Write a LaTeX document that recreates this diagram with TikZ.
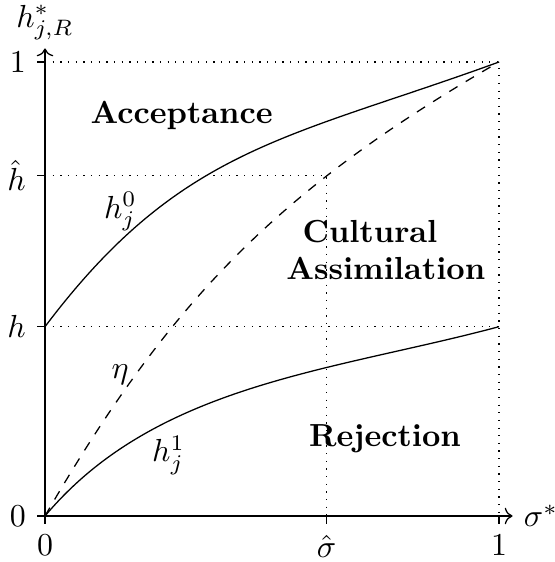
\documentclass[tikz,border=0pt]{standalone}
\usepackage{amsmath,amssymb}
\usetikzlibrary{arrows.meta,positioning}
\newcommand{\hlev}{2.085}
\newcommand{\hhatlev}{3.75}
\newcommand{\shatlev}{3.1}

\begin{document}
\begin{tikzpicture}[
    axis/.style={->},
    guide/.style={dotted},
    region/.style={
        font=\bfseries,
        anchor=base
    },
    curvelabel/.style={anchor=base}
]
\useasboundingbox (-0.4956,-0.5066) rectangle (5.606,5.683);

\coordinate (orig) at (0,0);
\coordinate (xend) at (5.15,0);
\coordinate (yend) at (0,5.15);
\coordinate (corner) at (5,5);
\coordinate (hleft) at (0,\hlev);
\coordinate (hright) at (5,\hlev);
\coordinate (hhat) at (0,\hhatlev);
\coordinate (meet) at (\shatlev,\hhatlev);
\coordinate (shat) at (\shatlev,0);

\draw[guide] (0,5) -- (corner) -- (5,0);
\draw[guide] (hleft) -- (hright);
\draw[guide] (hhat) -- (meet) -- (shat);

\draw[axis] (orig) -- (xend) node[right] (xlab) {$\sigma^*$};
\draw[axis] (orig) -- (yend) node[above,yshift=-1pt] (ylab) {$h^*_{j,R}$};

\draw (orig) -- ++(-2.5pt,0) node[left] (y0) {$0$};
\draw (hleft) -- ++(-2.5pt,0) node[left] (yh) {$h$};
\draw (hhat) -- ++(-2.5pt,0) node[left] (yhh) {$\hat{h}$};
\draw (0,5) -- ++(-2.5pt,0) node[left] (y1) {$1$};
\draw (orig) -- ++(0,-2.5pt) node[below] (x0) {$0$};
\draw (shat) -- ++(0,-2.5pt) node[below] (xs) {$\hat{\sigma}$};
\draw (5,0) -- ++(0,-2.5pt) node[below] (x1) {$1$};

\draw (hleft) to[out=53,in=200,looseness=1.1] (corner);
\draw (orig) to[out=50,in=195,looseness=0.9] (hright);
\draw[dashed] (orig) to[bend left=15] (corner);

\node[curvelabel] (lab0) at (0.83,3.28) {$h_j^0$};
\node[curvelabel] (lab1) at (1.36,0.598) {$h_j^1$};
\node[curvelabel] (labeta) at (0.826,1.511) {$\eta$};

\node[region] (acc) at (1.505,4.325) {Acceptance};
\node[region] (cult) at (3.579,3.007) {Cultural};
\node[region] (assim) at (3.753,2.6) {Assimilation};
\node[region] (rej) at (3.744,0.763) {Rejection};

\end{tikzpicture}
\end{document}
